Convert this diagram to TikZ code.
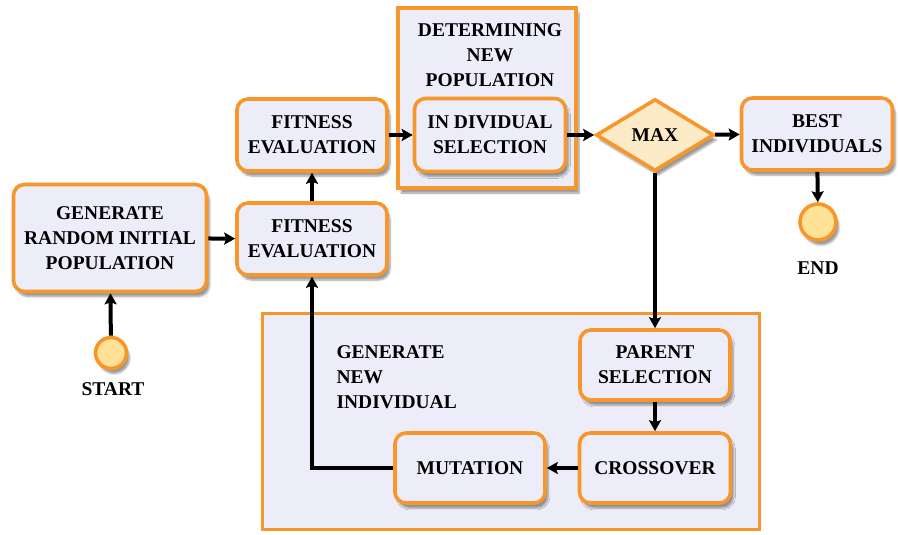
\documentclass[tikz,border=0pt]{standalone}
\usepackage{fontspec}
\setmainfont{Liberation Serif}
\usetikzlibrary{shapes.geometric,arrows.meta,shadows.blur}
\definecolor{obord}{HTML}{F7962A}
\definecolor{lav}{HTML}{EDEDF9}
\definecolor{cyel}{HTML}{FFE298}
\definecolor{dyel}{HTML}{FCEBC6}
\tikzset{
  shd/.style={blur shadow={shadow blur steps=6,shadow xshift=3pt,shadow yshift=-5pt,shadow opacity=40}},
  txt/.style={font=\fontsize{19.5}{25}\selectfont\bfseries,align=center,text=black},
  box/.style={txt,draw=obord,line width=3.6pt,fill=lav,rounded corners=11pt,shd,inner sep=0pt},
  frame/.style={draw=obord,line width=3.6pt,fill=lav,rectangle,inner sep=0pt},
  term/.style={circle,draw=obord,line width=3.6pt,fill=cyel,minimum size=31pt,inner sep=0pt,shd},
  dec/.style={diamond,draw=obord,line width=3.6pt,fill=dyel,txt,minimum width=118pt,minimum height=72pt,aspect=1.64,inner sep=0pt,shd},
  conn/.style={line width=4pt,black,-{Stealth[length=11pt,width=12pt,inset=2pt]}},
}
\begin{document}
\begin{tikzpicture}[x=1pt,y=-1pt]
\useasboundingbox (0,0) rectangle (898,535);
% frames
\node[frame,minimum width=178pt,minimum height=180pt,shd] (detbox) at (487,98) {};
\node[frame,minimum width=497pt,minimum height=216pt] (genbox) at (511,421.5) {};
\node[txt] (detlabel) at (490,55) {DETERMINING\\NEW\\POPULATION};
\node[txt,align=left,anchor=west] (genlabel) at (333,377) {GENERATE\\NEW\\INDIVIDUAL};
% boxes
\node[box,minimum width=193pt,minimum height=107pt] (gen) at (110,238) {GENERATE\\RANDOM INITIAL\\POPULATION};
\node[box,minimum width=150pt,minimum height=72pt] (fit1) at (312,239) {FITNESS\\EVALUATION};
\node[box,minimum width=150pt,minimum height=72pt] (fit2) at (312,135) {FITNESS\\EVALUATION};
\node[box,minimum width=151pt,minimum height=73pt] (ind) at (490,135) {IN DIVIDUAL\\SELECTION};
\node[dec] (max) at (655,135) {MAX};
\node[box,minimum width=151pt,minimum height=72pt] (best) at (817,134) {BEST\\INDIVIDUALS};
\node[box,minimum width=150pt,minimum height=70pt] (par) at (655,365) {PARENT\\SELECTION};
\node[box,minimum width=151pt,minimum height=70pt] (cross) at (655,468) {CROSSOVER};
\node[box,minimum width=150pt,minimum height=70pt] (mut) at (470,468) {MUTATION};
\node[term] (start) at (111,353) {};
\node[txt] (startl) at (113,389) {START};
\node[term,minimum height=36pt] (endc) at (818,222) {};
\node[txt] (endl) at (818,268) {END};
% connectors
\draw[conn] (start) -- (gen);
\draw[conn] (gen) -- (fit1);
\draw[conn] (fit1) -- (fit2);
\draw[conn] (fit2) -- (ind);
\draw[conn] (ind) -- (max);
\draw[conn] (max) -- (best);
\draw[conn] (best) -- (endc);
\draw[conn] (max.south) -- (max.south |- par.north);
\draw[conn] (par) -- (cross);
\draw[conn] (cross) -- (mut);
\draw[conn] (mut.west) -| (fit1.south);
\end{tikzpicture}
\end{document}
